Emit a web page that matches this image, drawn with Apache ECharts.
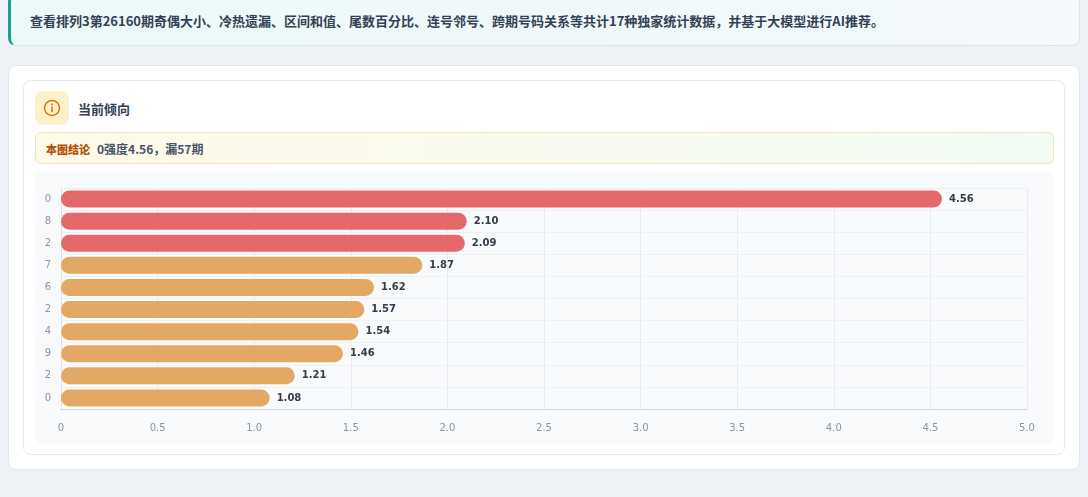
<!DOCTYPE html>
<html>
<head>
<meta charset="utf-8">
<script src="https://cdn.jsdelivr.net/npm/echarts@6/dist/echarts.min.js"></script>
<style>
  html, body { margin: 0; padding: 0; }
  body {
    width: 1088px; height: 497px; overflow: hidden;
    background: #eef1f5;
    font-family: "Noto Sans CJK SC", "Noto Sans", sans-serif;
    position: relative;
  }
  .banner {
    position: absolute; left: 8px; top: -6px; width: 1072px; height: 52px;
    box-sizing: border-box;
    background: linear-gradient(90deg, #ecf9f8 0%, #f4f9fb 100%);
    border: 1px solid #d8e6ea; border-left: 3px solid #1a9e94;
    border-radius: 8px;
    font-size: 13px; font-weight: 600; color: #334155;
    padding: 16px 0 0 19px;
  }
  .outer {
    position: absolute; left: 8px; top: 65px; width: 1072px; height: 405px;
    box-sizing: border-box; background: #fff;
    border: 1px solid #e3e7ec; border-radius: 8px;
  }
  .inner {
    position: absolute; left: 23px; top: 80px; width: 1042px; height: 375px;
    box-sizing: border-box; background: #fff;
    border: 1px solid #e6e9ee; border-radius: 8px;
  }
  .icon {
    position: absolute; left: 35px; top: 91px; width: 34px; height: 34px;
    background: #fdf1cc; border-radius: 8px;
  }
  .icon svg { position: absolute; left: 8px; top: 8px; }
  .title {
    position: absolute; left: 78px; top: 99px;
    font-size: 13px; font-weight: 700; color: #334155;
  }
  .concl {
    position: absolute; left: 35px; top: 132px; width: 1019px; height: 32px;
    box-sizing: border-box;
    background: linear-gradient(90deg, #fff9ea 0%, #f2fcf4 100%);
    border: 1px solid #f7e3b8; border-radius: 6px;
    font-size: 12px; padding: 7px 0 0 10px; color: #475569; font-weight: 600;
  }
  .concl b { color: #b45309; margin-right: 7px; font-size: 11px; }
  #chart {
    position: absolute; left: 35px; top: 172px; width: 1019px; height: 272px;
    background: #f8fafc; border-radius: 8px;
  }
</style>
</head>
<body>
<div class="banner">查看排列3第26160期奇偶大小、冷热遗漏、区间和值、尾数百分比、连号邻号、跨期号码关系等共计17种独家统计数据，并基于大模型进行AI推荐。</div>
<div class="outer"></div>
<div class="inner"></div>
<div class="icon">
  <svg width="18" height="18" viewBox="0 0 18 18">
    <circle cx="9" cy="9" r="7.5" fill="none" stroke="#d97706" stroke-width="1.5"/>
    <line x1="9" y1="8" x2="9" y2="12.5" stroke="#d97706" stroke-width="1.6" stroke-linecap="round"/>
    <circle cx="9" cy="5.4" r="0.95" fill="#d97706"/>
  </svg>
</div>
<div class="title">当前倾向</div>
<div class="concl"><b>本图结论</b>0强度4.56，漏57期</div>
<div id="chart"></div>
<script>
var digits = ['0', '8', '2', '7', '6', '2', '4', '9', '2', '0'];
var strength = [4.56, 2.10, 2.09, 1.87, 1.62, 1.57, 1.54, 1.46, 1.21, 1.08];
var hotCount = 3;
var xTicks = [0, 0.5, 1.0, 1.5, 2.0, 2.5, 3.0, 3.5, 4.0, 4.5, 5.0];

var chart = echarts.init(document.getElementById('chart'));
chart.setOption({
  animation: false,
  textStyle: { fontFamily: 'DejaVu Sans' },
  grid: { left: 26, right: 27, top: 16, bottom: 35, containLabel: false },
  xAxis: {
    type: 'value',
    min: xTicks[0],
    max: xTicks[xTicks.length - 1],
    interval: 0.5,
    axisLine: { show: true, lineStyle: { color: '#cfd5dd' } },
    axisTick: { show: false },
    axisLabel: {
      color: '#8a94a3', fontSize: 10, margin: 14, fontFamily: 'DejaVu Sans',
      formatter: function (v) { return v === 0 ? '0' : v.toFixed(1); }
    },
    splitLine: { show: true, lineStyle: { color: '#e8ecf1' } }
  },
  yAxis: {
    type: 'category',
    inverse: true,
    data: digits,
    axisLine: { show: true, lineStyle: { color: '#dde2e8' } },
    axisTick: { show: false },
    axisLabel: { color: '#8a94a3', fontSize: 10, margin: 10, fontFamily: 'DejaVu Sans' },
    splitLine: { show: true, lineStyle: { color: '#edf0f4' } }
  },
  series: [{
    type: 'bar',
    barWidth: 17,
    data: strength.map(function (v, i) {
      return {
        value: v,
        itemStyle: { color: i < hotCount ? '#e5696b' : '#e4a865' }
      };
    }),
    itemStyle: { borderRadius: 9 },
    label: {
      show: true, position: 'right', distance: 7,
      color: '#333c4a', fontSize: 10, fontWeight: 'bold', fontFamily: 'DejaVu Sans',
      formatter: function (p) { return p.value.toFixed(2); }
    }
  }]
});
</script>
</body>
</html>
